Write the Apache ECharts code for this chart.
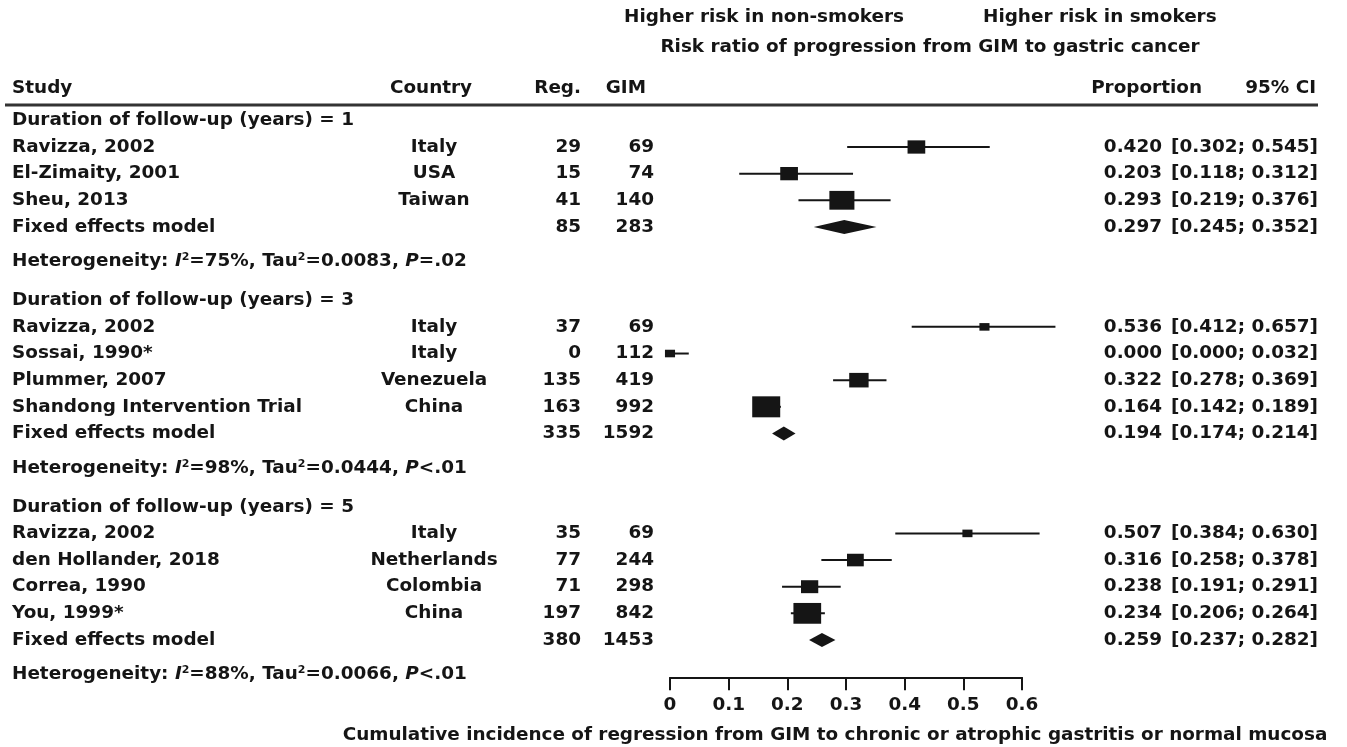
<!DOCTYPE html>
<html>
<head>
<meta charset="utf-8">
<script src="https://cdn.jsdelivr.net/npm/echarts@6/dist/echarts.min.js"></script>
<style>html,body{margin:0;padding:0;background:#fff;}#c{width:1347px;height:747px;}</style>
</head>
<body>
<div id="c"></div>
<script>
// ---------- data ----------
const groupLabels = ['Duration of follow-up (years) = 1', 'Duration of follow-up (years) = 3', 'Duration of follow-up (years) = 5'];
const studyGroup = [0, 0, 0, 1, 1, 1, 1, 2, 2, 2, 2];
const studyNames = ['Ravizza, 2002', 'El-Zimaity, 2001', 'Sheu, 2013', 'Ravizza, 2002', 'Sossai, 1990*', 'Plummer, 2007', 'Shandong Intervention Trial', 'Ravizza, 2002', 'den Hollander, 2018', 'Correa, 1990', 'You, 1999*'];
const countries = ['Italy', 'USA', 'Taiwan', 'Italy', 'Italy', 'Venezuela', 'China', 'Italy', 'Netherlands', 'Colombia', 'China'];
const regCounts = [29, 15, 41, 37, 0, 135, 163, 35, 77, 71, 197];
const gimCounts = [69, 74, 140, 69, 112, 419, 992, 69, 244, 298, 842];
const proportions = [0.420, 0.203, 0.293, 0.536, 0.000, 0.322, 0.164, 0.507, 0.316, 0.238, 0.234];
const ciLower = [0.302, 0.118, 0.219, 0.412, 0.000, 0.278, 0.142, 0.384, 0.258, 0.191, 0.206];
const ciUpper = [0.545, 0.312, 0.376, 0.657, 0.032, 0.369, 0.189, 0.630, 0.378, 0.291, 0.264];
const weights = [40, 40, 80, 13, 13, 48, 100, 13, 36, 38, 98]; // relative weight (estimated from square sizes)

const pooledReg = [85, 335, 380];
const pooledGim = [283, 1592, 1453];
const pooledProp = [0.297, 0.194, 0.259];
const pooledLower = [0.245, 0.174, 0.237];
const pooledUpper = [0.352, 0.214, 0.282];

const hetI2 = ['75%', '98%', '88%'];
const hetTau2 = ['0.0083', '0.0444', '0.0066'];
const hetP = ['=.02', '<.01', '<.01'];

const xTickMin = 0, xTickMax = 0.6, xTickStep = 0.1;

// ---------- layout (row units) ----------
const FONT = 'DejaVu Sans';
const FS = 18.4;
const COL = { study: 12, country: 434, reg: 581, gim: 654, prop: 1162, ci: 1318 };

const studyRows = [], pooledRows = [], titleRows = [], hetRows = [];
let r = 0;
for (let g = 0; g < groupLabels.length; g++) {
  titleRows.push(r);
  let k = 0;
  studyGroup.forEach((sg, i) => { if (sg === g) { k++; studyRows[i] = r + k; } });
  pooledRows.push(r + k + 1);
  hetRows.push(r + k + 2.3);
  r = r + k + 3.75;
}

const f3 = v => v.toFixed(3);
const textItems = [];
function addText(x, row, text, align, extra) { textItems.push(Object.assign({ x, row, text, align }, extra || {})); }

groupLabels.forEach((lab, g) => {
  addText(COL.study, titleRows[g], lab, 'left');
  addText(COL.study, pooledRows[g], 'Fixed effects model', 'left');
  addText(COL.reg, pooledRows[g], String(pooledReg[g]), 'right');
  addText(COL.gim, pooledRows[g], String(pooledGim[g]), 'right');
  addText(COL.prop, pooledRows[g], f3(pooledProp[g]), 'right');
  addText(COL.ci, pooledRows[g], '[' + f3(pooledLower[g]) + '; ' + f3(pooledUpper[g]) + ']', 'right');
  addText(COL.study, hetRows[g], 'Heterogeneity: {it|I}{sup|2}=' + hetI2[g] + ', Tau{sup|2}=' + hetTau2[g] + ', {it|P}' + hetP[g], 'left', { rich: true });
});
studyNames.forEach((s, i) => {
  const row = studyRows[i];
  addText(COL.study, row, s, 'left');
  addText(COL.country, row, countries[i], 'center');
  addText(COL.reg, row, String(regCounts[i]), 'right');
  addText(COL.gim, row, String(gimCounts[i]), 'right');
  addText(COL.prop, row, f3(proportions[i]), 'right');
  addText(COL.ci, row, '[' + f3(ciLower[i]) + '; ' + f3(ciUpper[i]) + ']', 'right');
});
// header row
const headerRow = -1.2;
addText(COL.study, headerRow, 'Study', 'left');
addText(431, headerRow, 'Country', 'center');
addText(COL.reg, headerRow, 'Reg.', 'right');
addText(646, headerRow, 'GIM', 'right');
addText(1202, headerRow, 'Proportion', 'right');
addText(1316, headerRow, '95% CI', 'right');

// ---------- chart ----------
const chart = echarts.init(document.getElementById('c'), null, { renderer: 'canvas' });
const Y_MIN = -1, Y_MAX = 20.9;
const gridTop = 93.7, gridBottom = 747 - 677.3;
const INK = '#151515';
const FONTSTR = 'bold ' + FS + 'px "DejaVu Sans"';

const studyData = studyNames.map((_, i) => [ciLower[i], ciUpper[i], proportions[i], studyRows[i], weights[i]]);
const pooledData = pooledProp.map((p, g) => [pooledLower[g], pooledUpper[g], p, pooledRows[g]]);

chart.setOption({
  backgroundColor: '#ffffff',
  animation: false,
  grid: [
    { left: 670, right: 1347 - 1022, top: gridTop, bottom: gridBottom },
    { left: 0, right: 0, top: gridTop, bottom: gridBottom }
  ],
  xAxis: [
    {
      gridIndex: 0, type: 'value', position: 'bottom', min: xTickMin, max: xTickMax, interval: xTickStep,
      axisLine: { show: true, onZero: false, lineStyle: { color: INK, width: 2 } },
      axisTick: { show: true, inside: false, length: 13, lineStyle: { color: INK, width: 2 } },
      axisLabel: { show: true, margin: 19, color: INK, fontFamily: FONT, fontWeight: 'bold', fontSize: FS,
        formatter: v => (Math.round(v * 10) / 10).toString() },
      splitLine: { show: false }
    },
    { gridIndex: 1, type: 'value', min: 0, max: 1347, show: false }
  ],
  yAxis: [
    { gridIndex: 0, type: 'value', min: Y_MIN, max: Y_MAX, inverse: true, show: false },
    { gridIndex: 1, type: 'value', min: Y_MIN, max: Y_MAX, inverse: true, show: false }
  ],
  graphic: [
    { type: 'text', left: 624, top: 8, style: { text: 'Higher risk in non-smokers', font: FONTSTR, fill: INK } },
    { type: 'text', left: 983, top: 8, style: { text: 'Higher risk in smokers', font: FONTSTR, fill: INK } },
    { type: 'text', x: 930, y: 47, style: { text: 'Risk ratio of progression from GIM to gastric cancer', font: FONTSTR, fill: INK, textAlign: 'center', textVerticalAlign: 'middle' } },
    { type: 'line', shape: { x1: 5, y1: 105, x2: 1318, y2: 105 }, style: { stroke: '#333', lineWidth: 3 } },
    { type: 'text', x: 835, y: 735, style: { text: 'Cumulative incidence of regression from GIM to chronic or atrophic gastritis or normal mucosa', font: FONTSTR, fill: INK, textAlign: 'center', textVerticalAlign: 'middle' } }
  ],
  series: [
    {
      type: 'custom', name: 'studies', xAxisIndex: 0, yAxisIndex: 0, clip: false,
      data: studyData,
      encode: { x: [0, 1, 2], y: 3 },
      renderItem: (params, api) => {
        const row = api.value(3);
        const pL = api.coord([api.value(0), row]);
        const pU = api.coord([api.value(1), row]);
        const pE = api.coord([api.value(2), row]);
        const w = 2.8 * Math.sqrt(api.value(4));
        const h = w * 0.75;
        return {
          type: 'group',
          children: [
            { type: 'line', shape: { x1: pL[0], y1: pL[1], x2: pU[0], y2: pU[1] }, style: { stroke: INK, lineWidth: 2 } },
            { type: 'rect', shape: { x: pE[0] - w / 2, y: pE[1] - h / 2, width: w, height: h }, style: { fill: INK } }
          ]
        };
      }
    },
    {
      type: 'custom', name: 'pooled', xAxisIndex: 0, yAxisIndex: 0, clip: false,
      data: pooledData,
      encode: { x: [0, 1, 2], y: 3 },
      renderItem: (params, api) => {
        const row = api.value(3);
        const pL = api.coord([api.value(0), row]);
        const pU = api.coord([api.value(1), row]);
        const pE = api.coord([api.value(2), row]);
        const hh = 7;
        return {
          type: 'polygon',
          shape: { points: [[pL[0], pL[1]], [pE[0], pE[1] - hh], [pU[0], pU[1]], [pE[0], pE[1] + hh]] },
          style: { fill: INK }
        };
      }
    },
    {
      type: 'custom', name: 'text', xAxisIndex: 1, yAxisIndex: 1, clip: false, silent: true,
      data: textItems.map(t => [t.x, t.row]),
      encode: { x: 0, y: 1 },
      renderItem: (params, api) => {
        const t = textItems[params.dataIndex];
        const p = api.coord([api.value(0), api.value(1)]);
        const style = {
          text: t.text, x: p[0], y: p[1], textAlign: t.align, textVerticalAlign: 'middle',
          fontFamily: FONT, fontWeight: 'bold', fontSize: FS, fill: INK
        };
        if (t.rich) style.rich = {
          it: { fontFamily: FONT, fontWeight: 'bold', fontStyle: 'italic', fontSize: FS, fill: INK },
          sup: { fontFamily: FONT, fontWeight: 'bold', fontSize: 11, fill: INK, verticalAlign: 'top', padding: [0, 0, 8, 0] }
        };
        return { type: 'text', style: style };
      }
    }
  ]
});
</script>
</body>
</html>
